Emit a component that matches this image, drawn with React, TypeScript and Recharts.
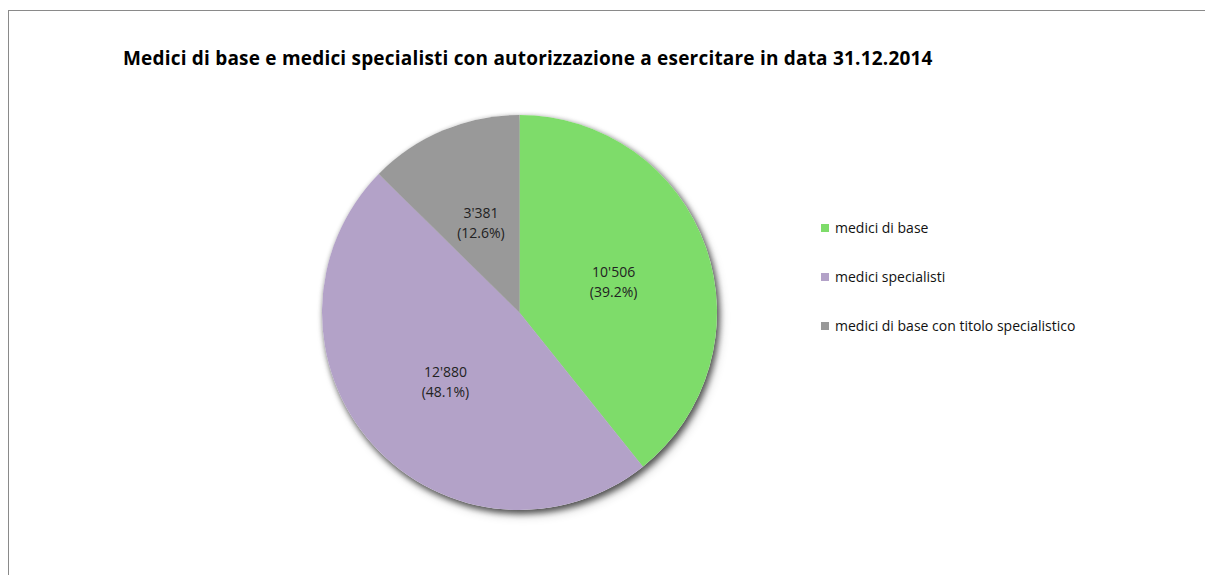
import React from 'react';
import { PieChart, Pie, Cell, Legend } from 'recharts';

const categories = ['medici di base', 'medici specialisti', 'medici di base con titolo specialistico'];
const values = [10506, 12880, 3381];
const colors = ['#7EDC6A', '#B3A2C8', '#999999'];
const title = 'Medici di base e medici specialisti con autorizzazione a esercitare in data 31.12.2014';

const data = categories.map((name, i) => ({ name, value: values[i] }));
const total = values.reduce((a, b) => a + b, 0);

const FONT = '"Open Sans", Lato, sans-serif';
const RAD = Math.PI / 180;

const fmt = (v: number) => String(v).replace(/\B(?=(\d{3})+(?!\d))/g, "'");

const renderLabel = (props: any) => {
  const { cx, cy, midAngle, outerRadius, value } = props;
  const r = outerRadius * 0.505;
  const x = cx + r * Math.cos(-midAngle * RAD);
  const y = cy + r * Math.sin(-midAngle * RAD) + 2;
  const pct = ((value / total) * 100).toFixed(1);
  return (
    <text x={x} y={y} textAnchor="middle" fill="#222" fontSize={14} fontFamily={FONT}>
      <tspan x={x} dy={-10} dominantBaseline="central">{fmt(value)}</tspan>
      <tspan x={x} dy={20} dominantBaseline="central">({pct}%)</tspan>
    </text>
  );
};

const renderLegend = () => (
  <div style={{ fontFamily: FONT, fontSize: 14, color: '#111' }}>
    {categories.map((c, i) => (
      <div key={c} style={{ display: 'flex', alignItems: 'center', height: 49 }}>
        <span style={{ display: 'inline-block', width: 8, height: 8, background: colors[i], marginRight: 6 }} />
        <span>{c}</span>
      </div>
    ))}
  </div>
);

export default function App() {
  return (
    <div style={{ position: 'absolute', left: 0, top: 0, width: 1205, height: 575, background: '#fff', overflow: 'hidden' }}>
      <style>{`.pie-shadow { filter: drop-shadow(2px 3px 3px rgba(0,0,0,0.45)); }`}</style>
      <div style={{ position: 'absolute', left: 8, top: 10, width: 1197, height: 565, borderTop: '1px solid #8a8a8a', borderLeft: '1px solid #8a8a8a' }} />
      <div style={{ position: 'absolute', left: 123, top: 45, fontFamily: FONT, fontWeight: 700, fontSize: 19, letterSpacing: 0.2, color: '#000', whiteSpace: 'nowrap' }}>
        {title}
      </div>
      <div style={{ position: 'absolute', left: 0, top: 0 }}>
        <PieChart width={1205} height={575} margin={{ top: 0, right: 0, bottom: 0, left: 0 }}>
          <Pie
            data={data}
            dataKey="value"
            nameKey="name"
            cx={519.5}
            cy={312.5}
            outerRadius={197.5}
            startAngle={90}
            endAngle={-270}
            className="pie-shadow"
            stroke="none"
            fill="#ffffff"
            isAnimationActive={false}
            legendType="none"
          />
          <Pie
            data={data}
            dataKey="value"
            nameKey="name"
            cx={519.5}
            cy={312.5}
            outerRadius={197.5}
            startAngle={90}
            endAngle={-270}
            stroke="none"
            label={renderLabel}
            labelLine={false}
            isAnimationActive={false}
          >
            {data.map((d, i) => (
              <Cell key={d.name} fill={colors[i]} />
            ))}
          </Pie>
          <Legend
            content={renderLegend}
            layout="vertical"
            verticalAlign="middle"
            align="right"
            wrapperStyle={{ position: 'absolute', left: 821, top: 203, width: 340 }}
          />
        </PieChart>
      </div>
    </div>
  );
}
